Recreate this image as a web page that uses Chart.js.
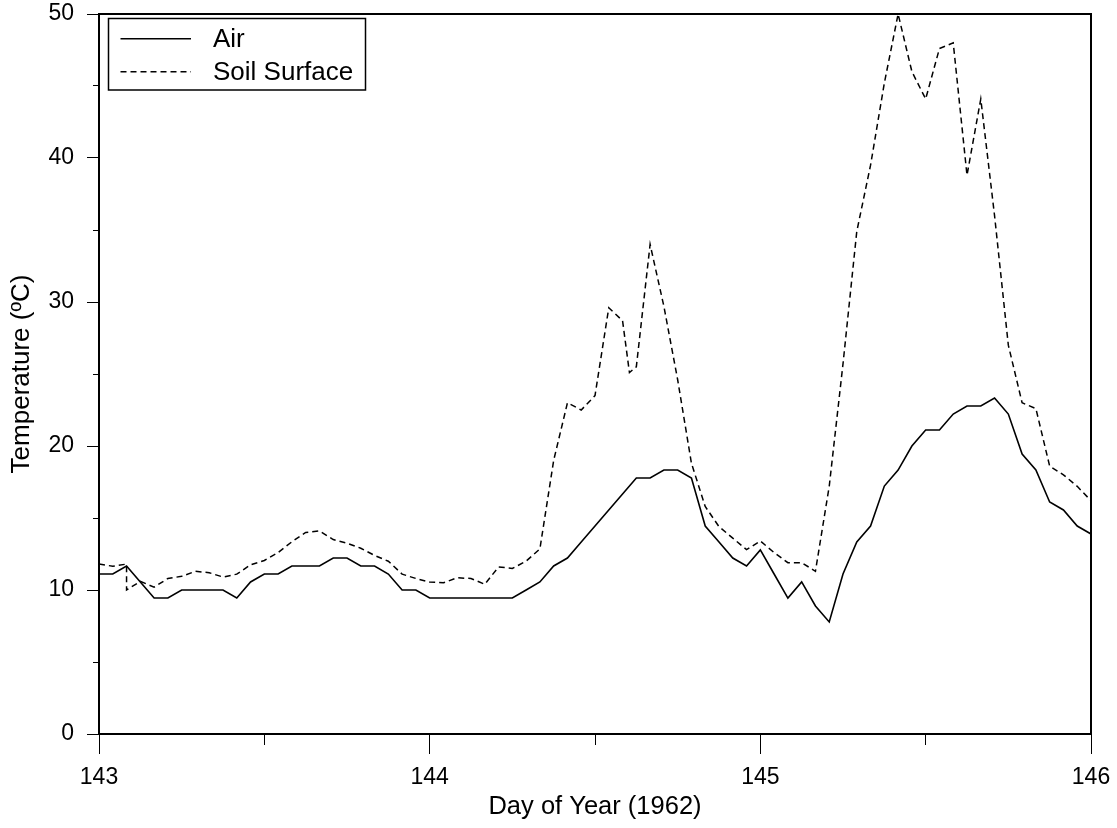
<!DOCTYPE html>
<html>
<head>
<meta charset="utf-8">
<script src="https://cdn.jsdelivr.net/npm/chart.js@4.4.1/dist/chart.umd.min.js"></script>
<style>
  html, body { margin: 0; padding: 0; background: #ffffff; }
  #wrap { width: 1117px; height: 828px; position: relative; }
</style>
</head>
<body>
<div id="wrap"><canvas id="c"></canvas></div>
<script>
// ---- data (hours after the start of day 143, 1962) ----
const startDay = 143;
const airHours = [0,1,2,3,4,5,6,7,8,9,10,11,12,13,14,15,16,17,18,19,20,21,22,23,24,
  25,26,27,28,29,30,31,32,33,34,35,36,37,38,39,40,41,42,43,44,45,46,47,48,
  49,50,51,52,53,54,55,56,57,58,59,60,61,62,63,64,65,66,67,68,69,70,71,72];
const airTemps = [11.11,11.11,11.67,10.56,9.44,9.44,10.0,10.0,10.0,10.0,9.44,10.56,11.11,
  11.11,11.67,11.67,11.67,12.22,12.22,11.67,11.67,11.11,10.0,10.0,9.44,
  9.44,9.44,9.44,9.44,9.44,9.44,10.0,10.56,11.67,12.22,13.33,14.44,15.56,16.67,17.78,
  17.78,18.33,18.33,17.78,14.44,13.33,12.22,11.67,12.78,
  11.11,9.44,10.56,8.89,7.78,11.11,13.33,14.44,17.22,18.33,20.0,21.11,21.11,22.22,
  22.78,22.78,23.33,22.22,19.44,18.33,16.11,15.56,14.44,13.89];
const soilHours = [0,1,2,2,3,4,5,6,7,8,9,10,11,12,13,14,15,16,17,18,19,20,21,22,23,24,
  25,26,27,28,29,30,31,32,33,34,35,36,37,38,38.5,39,40,41,42,43,44,45,46,47,48,
  49,50,51,52,53,54,55,56,57,58,59,60,61,62,63,64,65,66,67,68,69,70,71,72];
const soilTemps = [11.8,11.65,11.8,10.0,10.6,10.2,10.8,10.95,11.3,11.2,10.9,11.1,11.75,12.05,
  12.6,13.35,14.0,14.1,13.5,13.25,12.9,12.4,12.0,11.1,10.8,10.55,
  10.5,10.85,10.8,10.4,11.6,11.5,12.0,12.85,19.0,23.0,22.5,23.5,29.6,28.7,25.1,25.5,
  34.0,29.7,24.6,18.8,15.8,14.4,13.6,12.8,13.4,
  12.6,11.9,11.9,11.3,17.2,25.7,34.9,39.5,45.2,50.0,46.0,44.1,47.6,48.0,
  38.8,44.1,36.0,27.0,23.0,22.6,18.6,18.0,17.2,16.2];
const xTickLabels = [143, 144, 145, 146];
const yTickLabels = [0, 10, 20, 30, 40, 50];
const seriesNames = ['Air', 'Soil Surface'];

const FONT = "'Liberation Sans', Arial, sans-serif";

const toPoints = (hours, temps) => hours.map((h, i) => ({ x: startDay + h / 24, y: temps[i] }));

// frame (top & right border) + legend box
const framePlugin = {
  id: 'frame',
  afterDraw(chart) {
    const { ctx, chartArea: a } = chart;
    ctx.save();
    ctx.strokeStyle = '#000';
    ctx.lineWidth = 2;
    ctx.beginPath();
    ctx.moveTo(a.left, a.top);
    ctx.lineTo(a.right, a.top);
    ctx.lineTo(a.right, a.bottom);
    ctx.stroke();

    // legend
    const bx = 108.5, by = 18.5, bw = 257, bh = 71.5;
    ctx.lineWidth = 1.5;
    ctx.strokeRect(bx, by, bw, bh);
    const rows = [38.7, 71.7];
    chart.data.datasets.forEach((ds, i) => {
      const y = rows[i];
      ctx.beginPath();
      ctx.lineWidth = 1.5;
      ctx.setLineDash(ds.borderDash || []);
      ctx.moveTo(120.5, y);
      ctx.lineTo(191, y);
      ctx.stroke();
      ctx.setLineDash([]);
      ctx.fillStyle = '#000';
      ctx.font = '26px ' + FONT;
      ctx.textBaseline = 'middle';
      ctx.textAlign = 'left';
      ctx.fillText(ds.label, 213, y + 1);
    });
    ctx.restore();
  }
};

new Chart(document.getElementById('c'), {
  type: 'line',
  data: {
    datasets: [
      {
        label: seriesNames[0],
        data: toPoints(airHours, airTemps),
        borderColor: '#000',
        borderWidth: 1.6,
        pointRadius: 0,
        tension: 0,
        fill: false
      },
      {
        label: seriesNames[1],
        data: toPoints(soilHours, soilTemps),
        borderColor: '#000',
        borderWidth: 1.5,
        borderDash: [6, 4],
        pointRadius: 0,
        tension: 0,
        fill: false
      }
    ]
  },
  options: {
    responsive: true,
    maintainAspectRatio: false,
    animation: false,
    devicePixelRatio: 1,
    layout: { padding: { top: 14, right: 26, left: 0, bottom: 0 } },
    plugins: {
      legend: { display: false },
      tooltip: { enabled: false },
      title: { display: false }
    },
    scales: {
      x: {
        type: 'linear',
        min: 143,
        max: 146,
        afterFit(scale) { scale.height = 94; scale.paddingLeft = 0; scale.paddingRight = 0; },
        afterBuildTicks(scale) {
          const t = [];
          for (let v = 0; v <= 6; v++) t.push({ value: 143 + v * 0.5 });
          scale.ticks = t;
        },
        ticks: {
          autoSkip: false,
          maxRotation: 0,
          padding: 10,
          color: '#000',
          font: { family: FONT, size: 23 },
          callback: (v) => xTickLabels.includes(Math.round(v * 1000) / 1000) ? String(Math.round(v)) : ''
        },
        grid: {
          drawOnChartArea: false,
          drawTicks: true,
          tickLength: 20,
          tickColor: '#000',
          tickWidth: 1,
          tickBorderDash: (ctx) => {
            const v = ctx.tick ? ctx.tick.value : 0;
            return Number.isInteger(Math.round(v * 1000) / 1000) ? [] : [10, 100];
          }
        },
        border: { display: true, color: '#000', width: 2 },
        title: {
          display: true,
          text: 'Day of Year (1962)',
          color: '#000',
          font: { family: FONT, size: 25.5, lineHeight: 1 },
          padding: { top: 0, bottom: 8 }
        }
      },
      y: {
        type: 'linear',
        min: 0,
        max: 50,
        afterFit(scale) { scale.width = 99; scale.paddingTop = 0; scale.paddingBottom = 0; },
        ticks: {
          stepSize: 5,
          padding: 13,
          color: '#000',
          font: { family: FONT, size: 23 },
          callback: (v) => yTickLabels.includes(v) ? String(v) : ''
        },
        grid: {
          drawOnChartArea: false,
          drawTicks: true,
          tickLength: 12,
          tickColor: '#000',
          tickWidth: 1,
          tickBorderDash: (ctx) => {
            const v = ctx.tick ? ctx.tick.value : 0;
            return (v % 10 === 0) ? [] : [0, 6, 6, 100];
          }
        },
        border: { display: true, color: '#000', width: 2 },
        title: {
          display: true,
          text: 'Temperature (ºC)',
          color: '#000',
          font: { family: FONT, size: 26, lineHeight: 1 },
          padding: { top: 9, bottom: 0 }
        }
      }
    }
  },
  plugins: [framePlugin]
});
</script>
</body>
</html>
